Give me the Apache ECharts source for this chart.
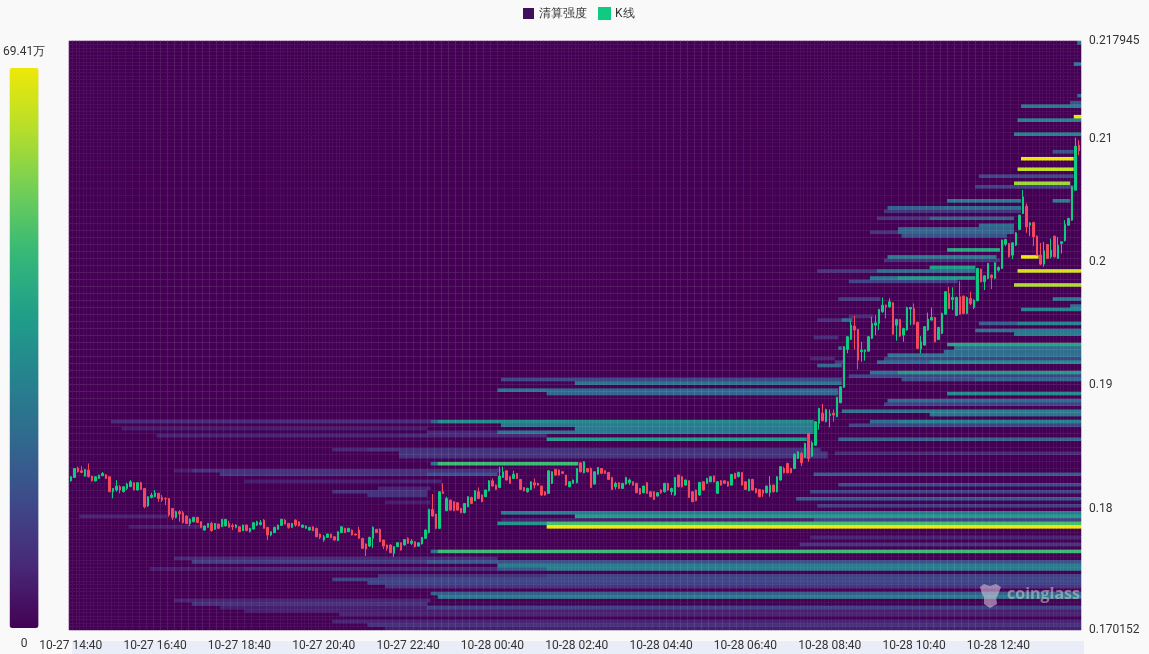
<!DOCTYPE html>
<html><head><meta charset="utf-8">
<style>html,body{margin:0;padding:0;background:#f9f9f9}#c{width:1149px;height:654px}</style>
<script src="https://cdn.jsdelivr.net/npm/echarts@6/dist/echarts.min.js"></script>
</head><body><div id="c"></div>
<script>
const priceMin = 0.170152, priceMax = 0.217945, intensityMax = 69.41;
const priceTicks = [0.170152, 0.18, 0.19, 0.2, 0.21, 0.217945];
const legendNames = ['清算强度', 'K线'];
const viridis = ['#440154','#482878','#3e4989','#31688e','#26828e','#1f9e89','#35b779','#6ece58','#b5de2b','#eee808'];
// time slots: 5-minute candles from 10-27 14:40
const timeSlots = [];
for (let i = 0, d = 27, m = 14 * 60 + 40; i < 288; i++, m += 5) {
  if (m >= 1440) { m -= 1440; d++; }
  timeSlots.push('10-' + d + ' ' + String(Math.floor(m / 60)).padStart(2, '0') + ':' + String(m % 60).padStart(2, '0'));
}
// candle values, in 1e-5 price units
const candleOpen = [18226,18253,18329,18307,18264,18313,18264,18224,18245,18267,18275,18259,18137,18151,18178,18137,18164,18178,18210,18151,18210,18164,18021,18091,18097,18124,18091,18083,18083,18002,17929,17975,17967,17940,17880,17894,17929,17894,17826,17848,17880,17832,17875,17853,17859,17880,17864,17848,17853,17821,17867,17813,17834,17867,17872,17907,17848,17786,17805,17832,17864,17907,17880,17848,17907,17894,17848,17840,17826,17853,17840,17794,17745,17767,17794,17772,17740,17805,17840,17813,17826,17794,17826,17759,17713,17696,17759,17832,17832,17745,17705,17705,17637,17691,
17723,17705,17759,17718,17732,17696,17713,17759,17805,17994,17956,17840,18137,17983,18069,18056,18048,18002,17967,18015,18091,18064,18137,18110,18097,18145,18226,18191,18172,18253,18307,18259,18245,18286,18237,18172,18137,18156,18210,18205,18183,18137,18124,18205,18318,18313,18299,18272,18178,18205,18210,18372,18291,18326,18326,18199,18280,18326,18307,18294,18253,18178,18210,18164,18199,18210,18218,18205,18164,18129,18210,18137,18137,18102,18151,18137,18205,18137,18110,18272,18259,18191,18226,18137,18151,18110,18218,18205,18218,18264,18124,18226,18226,18218,18191,18286,18259,18294,18218,18145,18237,18164,18156,18151,18129,18129,18191,18137,18232,18326,18367,18326,18326,18407,18448,18415,18610,18426,18515,
18692,18773,18705,18754,18773,18746,18859,18984,19292,19373,19481,19454,19273,19273,19278,19381,19489,19503,19597,19651,19638,19670,19489,19535,19408,19449,19619,19624,
19511,19295,19327,19449,19530,19551,19373,19422,19578,19746,19697,19568,19719,19724,19584,19705,19632,19687,19943,19841,19868,19895,19868,19935,19949,20146,20151,20057,20138,20265,20395,20454,20300,20322,20211,20057,19984,20143,20043,20211,20030,20152,20173,20300,20341,20584,20949];
const candleClose = [18259,18326,18299,18294,18318,18259,18226,18259,18272,18286,18245,18137,18164,18183,18151,18178,18199,18218,18151,18210,18156,18015,18097,18110,18129,18083,18069,18078,17948,17929,17975,17956,17886,17880,17913,17929,17888,17848,17859,17880,17821,17880,17840,17913,17913,17848,17853,17867,17813,17867,17821,17840,17886,17894,17886,17840,17786,17813,17848,17867,17913,17875,17848,17880,17867,17859,17867,17859,17848,17821,17772,17767,17772,17794,17764,17745,17813,17853,17805,17840,17786,17786,17759,17678,17672,17767,17848,17805,17732,17696,17678,17642,17691,17724,
17664,17750,17718,17737,17691,17723,17767,17826,17994,17940,17840,18137,18124,18083,17988,17983,17988,17967,18042,18097,18042,18145,18083,18056,18151,18226,18183,18156,18264,18299,18232,18205,18278,18245,18156,18145,18164,18218,18191,18191,18110,18110,18307,18299,18272,18272,18286,18191,18218,18232,18326,18299,18380,18299,18172,18299,18334,18286,18286,18237,18156,18205,18164,18205,18253,18232,18191,18129,18118,18183,18124,18097,18075,18129,18129,18205,18151,18164,18253,18178,18178,18232,18091,18056,18064,18213,18151,18245,18259,18218,18218,18191,18205,18183,18278,18245,18294,18191,18156,18237,18151,18129,18097,18124,18183,18191,18137,18259,18340,18291,18291,18291,18442,18461,18372,18529,18407,18534,18705,
18813,18713,18805,18768,18759,18903,18989,19314,19395,19489,19449,19205,19287,19287,19395,19503,19508,19616,19651,19638,19678,19416,19535,19400,19462,19632,19632,19497,
19300,19354,19476,19538,19551,19354,19470,19584,19760,19624,19714,19714,19578,19584,19714,19665,19692,19949,19841,19889,19989,19873,19995,19957,20179,20184,20043,20157,20238,20381,20530,20287,20319,20206,20057,19984,20092,20030,20097,20043,20138,20165,20306,20354,20611,20941,20903];
const candleLow = [18218,18250,18294,18286,18259,18253,18221,18221,18242,18264,18240,18134,18083,18137,18124,18132,18151,18175,18148,18148,18151,18002,18015,18083,18091,18056,18056,18029,17934,17907,17921,17894,17880,17875,17859,17888,17883,17845,17821,17845,17813,17829,17837,17850,17856,17845,17826,17840,17810,17818,17818,17805,17832,17859,17864,17837,17745,17775,17802,17829,17859,17872,17837,17845,17853,17856,17845,17837,17821,17818,17767,17753,17732,17764,17759,17740,17737,17802,17802,17810,17783,17783,17756,17675,17615,17688,17680,17802,17729,17672,17658,17640,17610,17688,
17660,17700,17715,17705,17686,17691,17710,17756,17800,17935,17832,17835,18118,17980,17985,17980,17985,17962,17962,18012,18037,18060,18078,18052,18094,18140,18178,18150,18165,18250,18228,18200,18240,18240,18150,18140,18130,18150,18164,18186,18105,18105,18120,18200,18268,18268,18280,18186,18172,18200,18205,18294,18286,18294,18167,18194,18275,18280,18280,18232,18150,18156,18160,18160,18194,18191,18186,18125,18113,18125,18120,18092,18070,18097,18122,18130,18146,18110,18105,18172,18172,18186,18086,18052,18060,18105,18146,18200,18214,18214,18120,18186,18200,18178,18186,18240,18254,18186,18150,18140,18146,18124,18092,18096,18124,18097,18132,18132,18228,18286,18286,18286,18320,18402,18345,18410,18380,18420,18510,
18640,18708,18700,18660,18705,18742,18855,18980,19260,19368,19292,19130,19192,19200,19274,19376,19408,19448,19590,19543,19630,19410,19362,19395,19354,19444,19489,19492,
19295,19260,19322,19444,19525,19350,19368,19416,19574,19620,19611,19562,19572,19578,19578,19651,19620,19682,19836,19773,19862,19781,19862,19922,19944,20130,20038,20024,20130,20260,20390,20238,20211,20130,20052,19976,19963,20025,20030,20038,20026,20070,20168,20295,20336,20584,20868];
const candleHigh = [18264,18330,18340,18345,18321,18367,18267,18262,18275,18297,18280,18262,18167,18232,18191,18181,18210,18232,18213,18213,18218,18167,18100,18129,18151,18129,18110,18091,18086,18002,17983,17988,17983,17945,17921,17934,17934,17896,17864,17883,17894,17883,17878,17916,17916,17902,17880,17875,17856,17870,17870,17845,17891,17902,17907,17915,17851,17816,17853,17870,17918,17915,17883,17883,17913,17896,17870,17864,17853,17856,17845,17796,17786,17796,17796,17775,17816,17856,17845,17845,17829,17796,17853,17761,17716,17772,17856,17835,17840,17748,17708,17708,17694,17726,
17726,17753,17767,17753,17735,17726,17770,17832,17999,18118,17959,18140,18205,18097,18075,18060,18052,18005,18045,18100,18097,18148,18172,18115,18155,18232,18245,18195,18340,18340,18312,18262,18307,18290,18240,18175,18170,18222,18245,18210,18186,18140,18312,18302,18323,18318,18302,18275,18222,18236,18330,18378,18385,18330,18334,18302,18338,18330,18312,18298,18258,18218,18214,18210,18258,18245,18222,18210,18168,18187,18215,18142,18140,18134,18156,18210,18210,18170,18256,18276,18262,18236,18230,18140,18155,18216,18222,18250,18264,18270,18222,18232,18230,18224,18282,18292,18300,18298,18222,18242,18242,18168,18160,18156,18188,18264,18196,18264,18345,18340,18372,18332,18448,18466,18461,18534,18615,18548,18710,
18818,18849,18810,18805,18805,18908,18994,19319,19400,19525,19562,19458,19354,19292,19400,19557,19570,19622,19714,19656,19706,19676,19540,19540,19468,19638,19638,19665,
19516,19400,19482,19590,19632,19556,19476,19590,19766,19800,19795,19720,19849,19730,19720,19760,19698,19954,19948,19895,19994,19900,20000,19965,20184,20190,20156,20162,20246,20386,20586,20476,20325,20327,20216,20157,20165,20148,20192,20216,20205,20170,20341,20360,20616,21011,20989];
// liquidation bands: price level (1e-5 units), first slot, end slot, intensity in 万
const bandPrice = [21786,21600,21356,21307,21275,21170,21145,21040,20906,20853,20748,20695,20634,20614,20504,20504,20456,20456,20427,20346,20346,20293,20269,20245,20245,20216,20107,20058,20050,20030,19969,19955,19940,19924,19920,19863,19863,19839,19815,19709,19709,19652,19628,19555,19547,19522,19506,19494,19441,19441,19417,19388,19340,19311,19311,19287,19255,19230,19230,19198,19178,19178,19149,19117,19092,19092,19068,19044,19044,19044,19044,19019,18962,18962,18938,18938,18890,18857,18804,18804,18776,18711,18711,18695,18695,18695,18670,18670,18670,18646,18630,18614,18614,18589,18565,18565,18492,18468,18459,18443,18419,18378,18378,18321,18297,18273,18273,18273,18216,18216,18192,18175,18151,18139,18119,18086,18062,18029,17981,17956,17956,17948,17932,17908,17908,17875,17875,17851,17843,17762,17713,17664,17664,17599,17583,17583,17559,17559,17551,17526,17526,17526,17502,17502,17462,17445,17429,17429,17405,17380,17315,17283,17259,17242,17202,17202,17161,17129,17080,17056,17031,18642,18603];
const bandStart = [287,286,287,285,271,286,270,269,280,271,270,259,269,258,250,280,233,249,232,230,245,259,236,228,236,237,250,271,233,232,245,245,230,213,270,228,236,222,269,219,280,285,271,222,220,213,270,259,258,269,269,212,250,252,219,249,233,232,211,218,230,245,213,259,228,236,222,123,144,237,258,144,122,136,136,250,233,232,220,245,245,103,105,12,228,236,222,123,144,144,102,122,144,94,136,219,75,85,218,94,94,103,105,30,35,43,102,212,50,94,219,88,75,211,85,207,90,213,207,123,144,3,144,123,212,122,136,136,17,211,208,103,105,30,35,122,43,102,122,50,122,136,23,136,136,88,75,101,85,90,103,105,30,35,43,102,50,77,75,85,90,15,25];
const bandEnd = [288,288,288,288,288,288,288,288,286,286,286,286,285,286,271,285,249,271,271,245,269,269,269,236,269,267,265,276,264,265,258,258,258,232,288,236,258,253,288,231,288,288,288,229,223,223,288,270,269,288,288,219,288,288,220,288,288,288,218,221,245,288,220,288,236,288,288,144,220,288,288,220,136,219,219,288,288,288,245,288,288,105,212,103,236,288,288,144,212,212,123,144,212,136,210,288,214,214,288,216,216,105,145,103,123,103,122,288,94,106,288,103,102,288,102,288,103,288,288,144,288,28,288,212,288,136,288,288,38,288,288,105,288,122,122,288,102,122,288,122,136,288,77,288,288,288,101,288,288,288,288,288,103,102,102,288,288,288,288,288,288,102,102];
const bandValue = [24.3,29.2,24.3,17.4,29.2,69.41,31.2,31.2,17.4,69.41,63.9,15.3,59,13.9,29.2,29.2,22.2,24.3,10.4,10.4,22.2,24.3,22.2,10.4,22.9,17.4,41.6,69.41,29.2,10.4,38.2,38.2,26.4,10.4,65.9,27.8,38.2,13.9,61,12.5,29.2,24.3,31.2,8.3,24.3,8.3,31.2,20.8,26.4,27.8,29.2,8.3,40.3,24.3,24.3,24.3,26.4,13.9,7,10.4,24.3,33.3,22.2,22.2,26.4,38.2,13.9,15.3,15.3,17.4,22.9,26.4,26.4,23,23,33.3,24.3,13.9,26.4,29.2,26.4,20.8,33.3,8.3,24.3,31.2,13.9,27,28.5,28.5,7,26.4,28.5,8.3,38.2,22.2,7,9.7,8.3,10.4,9.7,24.3,47.2,5.6,9.7,10.4,17.4,19.4,5.6,7,15.3,7,9.7,13.9,9.7,19.4,5.6,12.5,10.4,29.2,29.2,7,38.2,5.6,13.9,36.1,48.6,69.41,5.6,7,10.4,24.3,47.2,8.3,12.5,17.4,9.7,19.4,29.2,8.3,19.4,24,5.6,29.2,13.9,9.7,13.9,15.3,13.9,10.4,20.8,29.2,7,9.7,5.6,13.9,5.6,7,7,9.7,5.6,5.6,7];

const levelCount = 168;
const levelStep = (priceMax - priceMin) / levelCount;
const levels = Array.from({length: levelCount}, (_, k) => k);
const grid2 = levels.map(() => new Array(timeSlots.length).fill(0));
bandPrice.forEach((p, b) => {
  const k = Math.min(levelCount - 1, Math.max(0, Math.floor((p / 1e5 - priceMin) / levelStep)));
  for (let i = bandStart[b]; i < bandEnd[b]; i++) grid2[k][i] = Math.max(grid2[k][i], bandValue[b]);
});
const heatData = [];
levels.forEach(k => timeSlots.forEach((_, i) => heatData.push([i, k, grid2[k][i]])));
const candleData = timeSlots.map((_, i) => [candleOpen[i], candleClose[i], candleLow[i], candleHigh[i]].map(v => v / 1e5));

const font = 'Roboto';
const seam = {color: 'rgba(255,255,255,0.05)', width: 1};
const chart = echarts.init(document.getElementById('c'), null, {renderer: 'canvas'});
chart.setOption({
  animation: false,
  backgroundColor: '#f9f9f9',
  textStyle: {fontFamily: font},
  legend: {
    top: 2, left: 518, itemWidth: 11, itemHeight: 11, itemGap: 11,
    textStyle: {fontSize: 12, color: '#333', fontFamily: font},
    data: [
      {name: legendNames[0], icon: 'rect', itemStyle: {color: '#3d0f5c'}},
      {name: legendNames[1], icon: 'rect', itemStyle: {color: '#0ecb81'}}
    ]
  },
  grid: {left: 69, right: 68, top: 41, bottom: 24, containLabel: false},
  xAxis: {
    type: 'category', data: timeSlots, z: 3, boundaryGap: true,
    axisLine: {show: false}, axisTick: {show: false},
    axisLabel: {interval: 23, fontSize: 12, color: '#333', margin: 10, fontFamily: font},
    splitLine: {show: true, interval: 1, lineStyle: seam}
  },
  yAxis: [
    {type: 'category', data: levels, position: 'left', z: 3, boundaryGap: true,
     axisLine: {show: false}, axisTick: {show: false}, axisLabel: {show: false},
     splitLine: {show: true, interval: 1, lineStyle: seam}},
    {type: 'value', position: 'right', min: priceMin, max: priceMax, scale: true, z: 3,
     axisLine: {show: false}, axisTick: {show: false}, splitLine: {show: false},
     axisLabel: {customValues: priceTicks, formatter: v => String(v), fontSize: 12, color: '#333', margin: 8, padding: [5, 0, 0, 0], fontFamily: font}}
  ],
  visualMap: {
    type: 'continuous', seriesIndex: 0, dimension: 2, min: 0, max: intensityMax,
    calculable: false, orient: 'vertical', left: -12, top: 31, itemWidth: 29, itemHeight: 560,
    text: ['69.41万', '0'], textGap: 10, textStyle: {color: '#333', fontSize: 12, fontFamily: font},
    inRange: {color: viridis}
  },
  series: [
    {name: legendNames[0], type: 'heatmap', data: heatData, xAxisIndex: 0, yAxisIndex: 0, z: 1,
     progressive: 0, silent: true, itemStyle: {color: '#440154'}, emphasis: {disabled: true}},
    {name: legendNames[1], type: 'candlestick', data: candleData, xAxisIndex: 0, yAxisIndex: 1, z: 5,
     barWidth: 2, silent: true, clip: true,
     itemStyle: {color: '#0ecb81', color0: '#f6465d', borderColor: '#0ecb81', borderColor0: '#f6465d', borderWidth: 1}}
  ],
  graphic: [
    {type: 'rect', z: -10, shape: {x: 72, y: 641, width: 1012, height: 13}, style: {fill: '#e9edf8'}},
    {type: 'text', z: 20, x: 1007, y: 586, style: {text: 'coinglass', fill: 'rgba(205,205,205,0.55)', font: 'bold 16px "Open Sans"'}},
    {type: 'polygon', z: 20, shape: {points: [[980,587],[984,584],[990,586],[996,584],[1001,587],[998,595],[996,598],[997,604],[990,608],[984,604],[984,597],[982,594]]}, style: {fill: 'rgba(225,205,225,0.55)'}}
  ]
});
</script></body></html>
